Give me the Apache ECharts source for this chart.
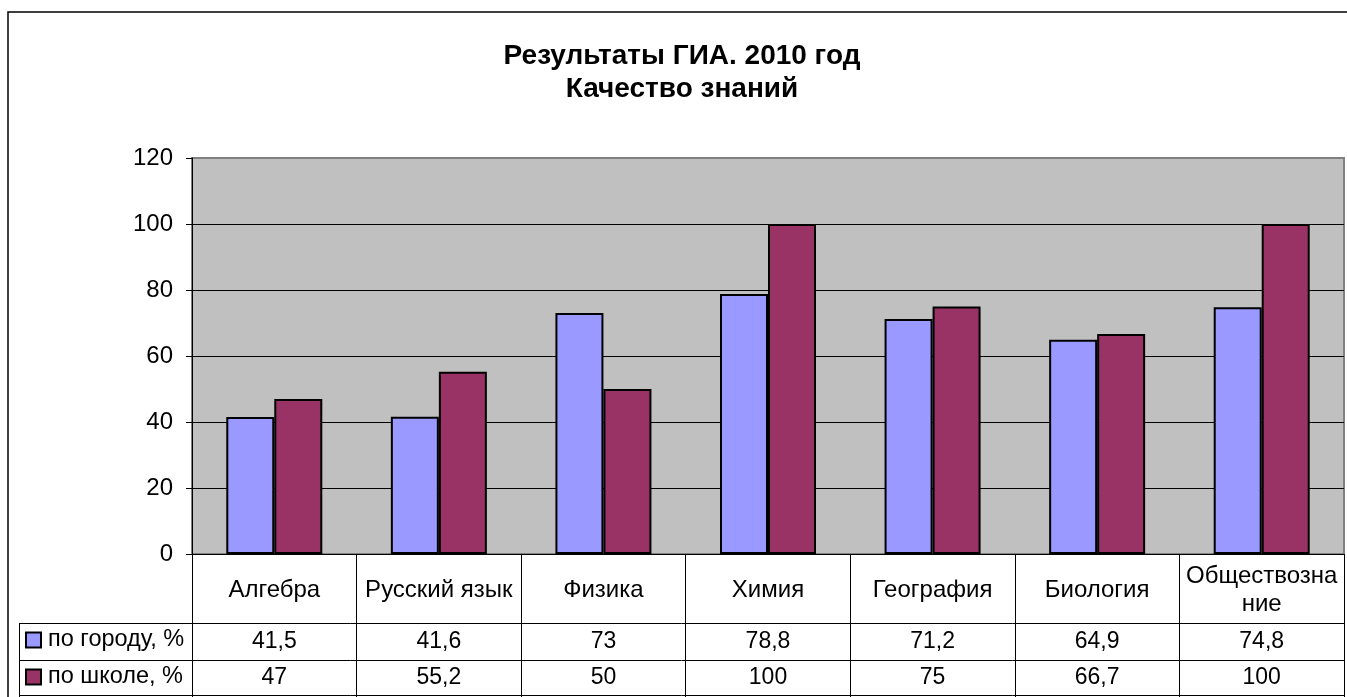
<!DOCTYPE html>
<html>
<head>
<meta charset="utf-8">
<script src="https://cdn.jsdelivr.net/npm/echarts@6/dist/echarts.min.js"></script>
<style>
html,body{margin:0;padding:0;background:#fff;}
#chart{width:1347px;height:697px;}
</style>
</head>
<body>
<div id="chart"></div>
<script>
const titleLines = ['Результаты ГИА. 2010 год', 'Качество знаний'];
const categories = ['Алгебра', 'Русский язык', 'Физика', 'Химия', 'География', 'Биология', 'Обществознание'];
const seriesNames = ['по городу, %', 'по школе, %'];
const cityValues = [41.5, 41.6, 73, 78.8, 71.2, 64.9, 74.8];
const schoolValues = [47, 55.2, 50, 100, 75, 66.7, 100];
const yMin = 0, yMax = 120, yStep = 20;
const colors = ['#9999FF', '#993366'];

const fmt = v => String(v).replace('.', ',');
// wrap long category names the way the cell width does (after 11 chars)
const wrapCat = v => v.length > 12 ? v.slice(0, 11) + '\n' + v.slice(11) : v;
const FONT = 'Liberation Sans, Arial, sans-serif';
const GL = 192, GR = 1344, GT = 158, GB = 554, W = 1347, H = 697;
const ROW1 = 623, ROW2 = 660, ROWEND = 695.5, TABLE_L = 19;

const chart = echarts.init(document.getElementById('chart'), null, {renderer: 'canvas'});
const gridBase = {left: GL, right: W - GR, top: GT, bottom: H - GB, containLabel: false};

function legendFor(i, top) {
  return {
    orient: 'horizontal', left: 25, top: top, padding: 0, itemWidth: 15, itemHeight: 15, itemGap: 0,
    icon: 'rect', data: [seriesNames[i]],
    textStyle: {fontFamily: FONT, fontSize: 23.5, color: '#000', padding: [0, 0, 0, 2]},
    itemStyle: {borderColor: '#000', borderWidth: 2}
  };
}

const option = {
  animation: false,
  backgroundColor: '#fff',
  title: {
    text: titleLines.join('\n'),
    left: 677, top: 35, textAlign: 'center',
    textStyle: {fontFamily: FONT, fontSize: 28, fontWeight: 'bold', color: '#000', lineHeight: 33}
  },
  legend: [legendFor(0, 628), legendFor(1, 665)],
  grid: [
    Object.assign({show: true, backgroundColor: '#C0C0C0', borderColor: '#808080', borderWidth: 2}, gridBase),
    Object.assign({}, gridBase),
    Object.assign({}, gridBase)
  ],
  xAxis: [
    {
      type: 'category', gridIndex: 0, data: categories, position: 'bottom',
      axisLine: {show: true, lineStyle: {color: '#000', width: 1}},
      axisTick: {show: true, length: H - GB, interval: 0, lineStyle: {color: '#000', width: 1}},
      axisLabel: {interval: 0, margin: 36, verticalAlign: 'middle', fontFamily: FONT, fontSize: 24, color: '#000',
                  lineHeight: 28, formatter: wrapCat}
    },
    {
      type: 'category', gridIndex: 1, data: categories, position: 'bottom',
      axisLine: {show: false}, axisTick: {show: false},
      axisLabel: {interval: 0, margin: 88, verticalAlign: 'middle', fontFamily: FONT, fontSize: 23, color: '#000',
                  formatter: (v, i) => fmt(cityValues[i])}
    },
    {
      type: 'category', gridIndex: 2, data: categories, position: 'bottom',
      axisLine: {show: false}, axisTick: {show: false},
      axisLabel: {interval: 0, margin: 124, verticalAlign: 'middle', fontFamily: FONT, fontSize: 23, color: '#000',
                  formatter: (v, i) => fmt(schoolValues[i])}
    }
  ],
  yAxis: [
    {
      type: 'value', gridIndex: 0, min: yMin, max: yMax, interval: yStep,
      axisLine: {show: true, lineStyle: {color: '#000', width: 1}},
      axisTick: {show: true, inside: false, length: 6, lineStyle: {color: '#000'}},
      axisLabel: {margin: 19, fontFamily: FONT, fontSize: 24, color: '#000'},
      splitLine: {show: true, lineStyle: {color: ['#000', '#000', '#000', '#000', '#000', '#000', '#808080'], width: 1}}
    },
    {type: 'value', gridIndex: 1, show: false, min: yMin, max: yMax},
    {type: 'value', gridIndex: 2, show: false, min: yMin, max: yMax}
  ],
  series: [
    {
      name: seriesNames[0], type: 'bar', xAxisIndex: 0, yAxisIndex: 0, data: cityValues,
      barWidth: 48, barGap: '0%',
      itemStyle: {color: colors[0], borderColor: '#000', borderWidth: 2}
    },
    {
      name: seriesNames[1], type: 'bar', xAxisIndex: 0, yAxisIndex: 0, data: schoolValues,
      barWidth: 48, barGap: '0%',
      itemStyle: {color: colors[1], borderColor: '#000', borderWidth: 2}
    }
  ],
  graphic: [
    {type: 'rect', shape: {x: 8, y: 12, width: 1400, height: 800}, style: {fill: null, stroke: '#000', lineWidth: 1.5}, z: -10, silent: true},
    {type: 'line', shape: {x1: TABLE_L, y1: ROW1 + 0.5, x2: GR, y2: ROW1 + 0.5}, style: {stroke: '#000', lineWidth: 1}, z: 10},
    {type: 'line', shape: {x1: TABLE_L, y1: ROW2 + 0.5, x2: GR, y2: ROW2 + 0.5}, style: {stroke: '#000', lineWidth: 1}, z: 10},
    {type: 'line', shape: {x1: TABLE_L, y1: ROWEND, x2: GR, y2: ROWEND}, style: {stroke: '#000', lineWidth: 1}, z: 10},
    {type: 'line', shape: {x1: TABLE_L + 0.5, y1: ROW1, x2: TABLE_L + 0.5, y2: H}, style: {stroke: '#000', lineWidth: 1}, z: 10}
  ]
};
chart.setOption(option);
</script>
</body>
</html>
